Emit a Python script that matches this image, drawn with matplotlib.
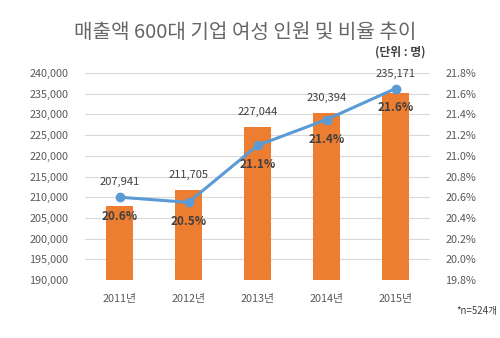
import numpy as np
import matplotlib
matplotlib.use("Agg")
import matplotlib.pyplot as plt

plt.rcParams["font.family"] = ["Noto Sans CJK KR", "DejaVu Sans"]

years = ["2011년", "2012년", "2013년", "2014년", "2015년"]
women = [207941, 211705, 227044, 230394, 235171]
ratio = [20.6, 20.55, 21.1, 21.35, 21.65]
ratio_labels = ["20.6%", "20.5%", "21.1%", "21.4%", "21.6%"]

LEFT_MIN, LEFT_MAX = 190000, 240000
RIGHT_MIN, RIGHT_MAX = 19.8, 21.8

BAR = "#ED7D31"
LINE = "#5B9BD5"
TXT = "#404040"
TICK = "#595959"


def to_left(p):
    return LEFT_MIN + (p - RIGHT_MIN) / (RIGHT_MAX - RIGHT_MIN) * (LEFT_MAX - LEFT_MIN)


def main():
    fig = plt.figure(figsize=(5.0, 3.38), dpi=100)
    ax = fig.add_axes([0.17, 0.1716, 0.69, 0.6124])
    ax2 = ax.twinx()

    x = np.arange(len(years))
    ax.bar(x, women, width=0.39, color=BAR, zorder=2)
    ax.set_ylim(LEFT_MIN, LEFT_MAX)
    ax.set_yticks(np.arange(LEFT_MIN, LEFT_MAX + 1, 5000))
    ax.set_yticklabels([f"{v:,}" for v in range(LEFT_MIN, LEFT_MAX + 1, 5000)])
    ax.set_xlim(-0.5, len(years) - 0.5)
    ax.set_xticks(x)
    ax.set_xticklabels(years)
    ax.grid(axis="y", color="#D9D9D9", linewidth=0.8, zorder=0)
    ax.set_axisbelow(True)

    ax2.plot(x, ratio, color=LINE, linewidth=2.2, marker="o", markersize=6, zorder=3)
    ax2.set_ylim(RIGHT_MIN, RIGHT_MAX)
    ticks = np.round(np.arange(RIGHT_MIN, RIGHT_MAX + 0.001, 0.2), 1)
    ax2.set_yticks(ticks)
    ax2.set_yticklabels([f"{t:.1f}%" for t in ticks])

    for a in (ax, ax2):
        for s in a.spines.values():
            s.set_visible(False)
        a.tick_params(length=0, labelsize=7.8, labelcolor=TICK)
    ax.tick_params(axis="y", pad=12)
    ax.tick_params(axis="x", pad=10)
    ax2.tick_params(axis="y", pad=11)

    for i in range(len(years)):
        top = max(women[i], to_left(ratio[i]))
        ax.annotate(f"{women[i]:,}", (x[i], top), xytext=(0, 7), textcoords="offset points",
                    ha="center", va="bottom", fontsize=8, color=TXT, zorder=5)
        ax2.annotate(ratio_labels[i], (x[i], ratio[i]), xytext=(0, -14), textcoords="offset points",
                     ha="center", va="center", fontsize=8.5, fontweight="bold", color=TXT, zorder=5)

    fig.text(0.49, 0.905, "매출액 600대 기업 여성 인원 및 비율 추이", ha="center", va="center",
             fontsize=14.5, color="#666666")
    fig.text(0.80, 0.845, "(단위 : 명)", ha="center", va="center", fontsize=8.5,
             fontweight="bold", color=TXT)
    fig.text(0.995, 0.08, "*n=524개", ha="right", va="center", fontsize=7, color=TXT)

    fig.savefig("out.png", dpi=100, facecolor="white")


if __name__ == "__main__":
    main()
